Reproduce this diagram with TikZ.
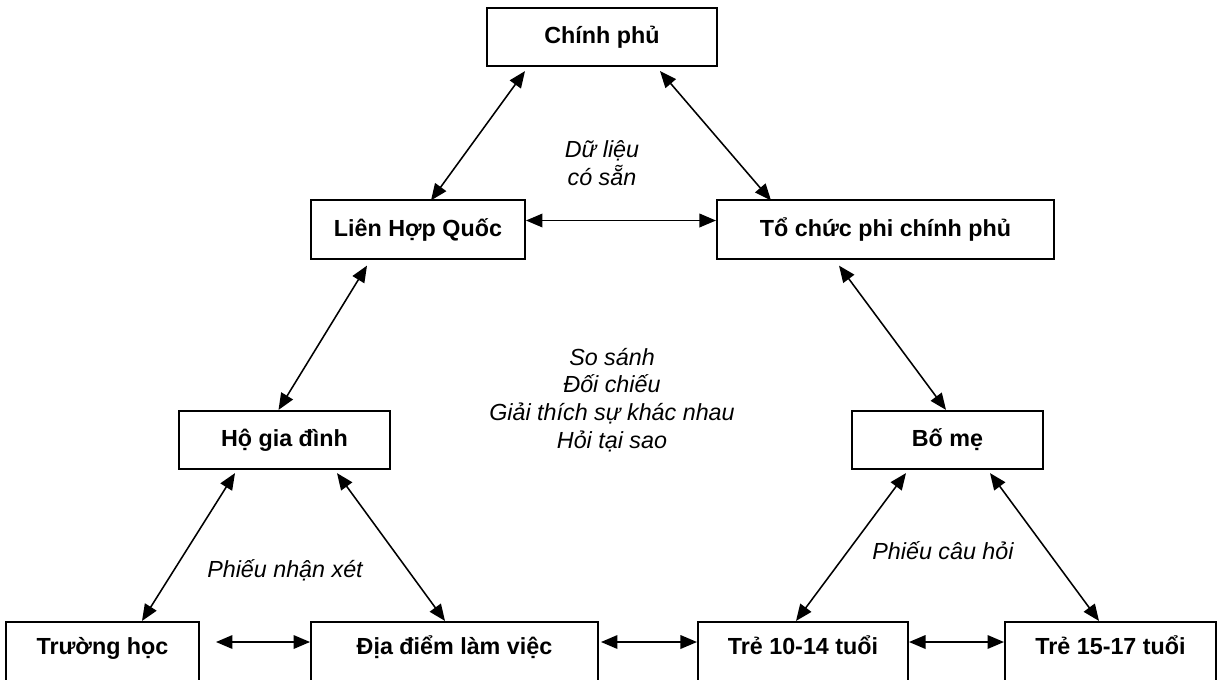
\documentclass[tikz,border=0pt]{standalone}
\usepackage{fontspec}
\setmainfont{Liberation Sans}
\usetikzlibrary{arrows.meta,calc}
\begin{document}
\begin{tikzpicture}[x=0.515pt,y=-0.515pt,
    box/.style={draw,line width=1pt,font={\fontsize{12}{14.3}\selectfont\bfseries},minimum height=30pt,inner sep=0pt},
    lowbox/.style={box,minimum height=31pt,text height=9pt,text depth=6pt},
    link/.style={{Triangle[length=8.5pt,width=7pt]}-{Triangle[length=8.5pt,width=7pt]},line width=0.8pt},
    note/.style={font={\fontsize{12}{14.3}\selectfont\itshape},align=center}]
  \useasboundingbox (0,0) rectangle (1217,679);
  \clip (0,0) rectangle (1217,679);
  \node[box,minimum width=118.45pt] (gov) at (602,37) {Chính phủ};
  \node[box,minimum width=110.2pt] (un) at (418,229.5) {Liên Hợp Quốc};
  \node[box,minimum width=173.6pt] (ngo) at (885.5,229.5) {Tổ chức phi chính phủ};
  \node[box,minimum width=108.7pt] (hh) at (284.5,440) {Hộ gia đình};
  \node[box,minimum width=98.4pt] (par) at (947.5,440) {Bố mẹ};
  \node[lowbox,minimum width=99.4pt] (school) at (102.5,652) {Trường học};
  \node[lowbox,minimum width=147.8pt] (work) at (454.5,652) {Địa điểm làm việc};
  \node[lowbox,minimum width=108.2pt] (kid1) at (803,652) {Trẻ 10-14 tuổi};
  \node[lowbox,minimum width=108.7pt] (kid2) at (1110.5,652) {Trẻ 15-17 tuổi};
  \node[note] (data) at (602,163) {Dữ liệu\\có sẵn};
  \node[note] (compare) at (612,400) {So sánh\\Đối chiếu\\Giải thích sự khác nhau\\Hỏi tại sao};
  \node[note] (review) at (285,570) {Phiếu nhận xét};
  \node[note] (survey) at (943,551) {Phiếu câu hỏi};
  \draw[link] ($(gov.south)+(-77,4)$) -- ($(un.north)+(13,1)$);
  \draw[link] ($(gov.south)+(58,4)$) -- ($(ngo.north)+(-114.5,1)$);
  \draw[link] ($(un.east)+(0,-9)$) -- ($(ngo.west)+(0,-9)$);
  \draw[link] ($(un.south)+(-51,6)$) -- ($(hh.north)+(-6,0)$);
  \draw[link] ($(ngo.south)+(-46.5,6)$) -- ($(par.north)+(-1.5,0)$);
  \draw[link] ($(hh.south)+(-49.5,3)$) -- ($(school.north)+(39.5,0)$);
  \draw[link] ($(hh.south)+(52.5,3)$) -- ($(work.north)+(-9.5,0)$);
  \draw[link] ($(par.south)+(-41.5,3)$) -- ($(kid1.north)+(-7,0)$);
  \draw[link] ($(par.south)+(42.5,3)$) -- ($(kid2.north)+(-11.5,0)$);
  \draw[link] ($(school.east)+(16,-10)$) -- ($(work.west)+(0,-10)$);
  \draw[link] ($(work.east)+(2,-10)$) -- ($(kid1.west)+(0,-10)$);
  \draw[link] ($(kid1.east)+(0,-10)$) -- ($(kid2.west)+(0,-10)$);
\end{tikzpicture}
\end{document}
